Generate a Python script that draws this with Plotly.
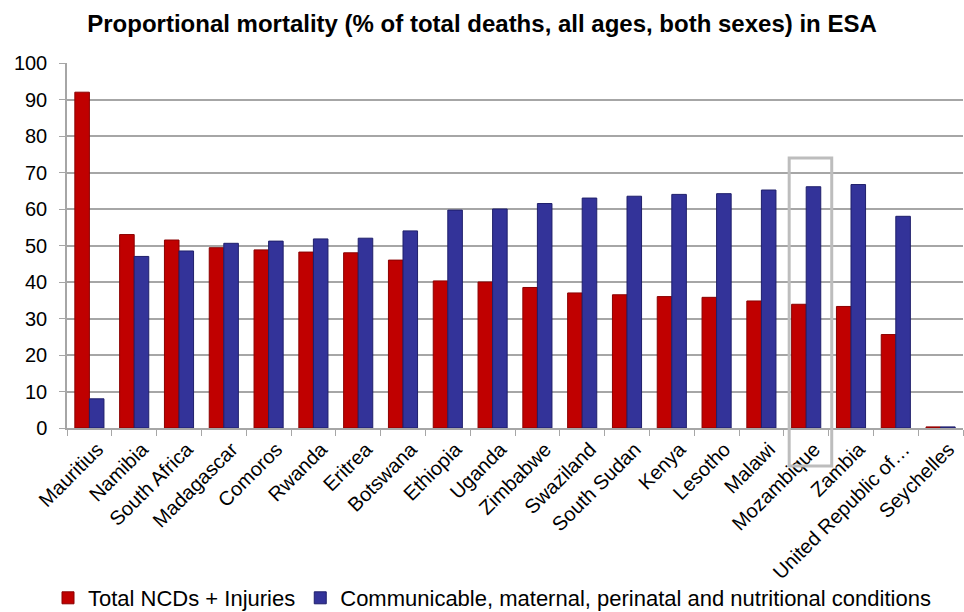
import plotly.graph_objects as go

countries = ["Mauritius", "Namibia", "South Africa", "Madagascar", "Comoros", "Rwanda",
             "Eritrea", "Botswana", "Ethiopia", "Uganda", "Zimbabwe", "Swaziland",
             "South Sudan", "Kenya", "Lesotho", "Malawi", "Mozambique", "Zambia",
             "United Republic of…", "Seychelles"]
ncds_injuries = [92.0, 53.0, 51.5, 49.4, 48.8, 48.2, 48.0, 46.0, 40.3, 40.0,
                 38.5, 37.0, 36.5, 36.0, 35.8, 34.8, 33.9, 33.3, 25.6, 0.3]
communicable = [8.0, 47.0, 48.5, 50.6, 51.2, 51.8, 52.0, 54.0, 59.7, 60.0,
                61.5, 63.0, 63.5, 64.0, 64.2, 65.2, 66.1, 66.7, 58.0, 0.3]
y_ticks = [0, 10, 20, 30, 40, 50, 60, 70, 80, 90, 100]
highlight = "Mozambique"

red = "#C00000"
blue = "#333399"
font = "Liberation Sans, Arial, sans-serif"

fig = go.Figure()
fig.add_trace(go.Bar(x=countries, y=ncds_injuries, name="Total NCDs + Injuries",
                     marker=dict(color=red, line=dict(color="#8B0000", width=1))))
fig.add_trace(go.Bar(x=countries, y=communicable,
                     name="Communicable, maternal, perinatal and nutritional conditions",
                     marker=dict(color=blue, line=dict(color="#1F1F6B", width=1))))

n = len(countries)
hi = countries.index(highlight)
fig.add_shape(type="rect", xref="paper", yref="paper",
              x0=(hi + 0.12) / n, x1=(hi + 1.07) / n, y0=-0.104, y1=0.74,
              line=dict(color="#BDBDBD", width=3), fillcolor="rgba(0,0,0,0)", layer="above")

fig.update_layout(
    template="none",
    width=964, height=612,
    paper_bgcolor="white", plot_bgcolor="white",
    font=dict(family=font, size=20, color="black"),
    title=dict(text="<b>Proportional mortality (% of total deaths, all ages, both sexes) in ESA</b>",
               x=0.5, xanchor="center", xref="container", y=1 - 24 / 612, yanchor="middle",
               font=dict(size=24, family=font, color="black")),
    margin=dict(l=67, r=1, t=63, b=184, autoexpand=False),
    barmode="group", bargap=0.35, bargroupgap=0.0,
    legend=dict(orientation="h", x=0.5 + 10 / 964, xanchor="center", xref="container",
                y=14 / 612, yanchor="middle", yref="container",
                font=dict(size=22, family=font), itemwidth=30, traceorder="normal",
                bgcolor="rgba(0,0,0,0)"),
    showlegend=True,
)
fig.update_yaxes(range=[0, 100], tickvals=y_ticks, showgrid=True, gridcolor="#A6A6A6",
                 gridwidth=1.5, showline=True, linecolor="#A6A6A6", linewidth=1.5,
                 ticks="outside", ticklen=6, tickcolor="#A6A6A6", ticklabelstandoff=8,
                 tickfont=dict(size=20), zeroline=False, automargin=False)
fig.update_xaxes(tickangle=-45, showline=True, linecolor="#A6A6A6", linewidth=1.5,
                 ticks="outside", tickson="boundaries", ticklen=6, tickcolor="#A6A6A6",
                 ticklabelshift=8, tickfont=dict(size=20), showgrid=False, automargin=False)

fig.write_html("out.html", config={"displayModeBar": False},
               post_script="document.body.style.margin='0';document.body.style.overflow='hidden';")
